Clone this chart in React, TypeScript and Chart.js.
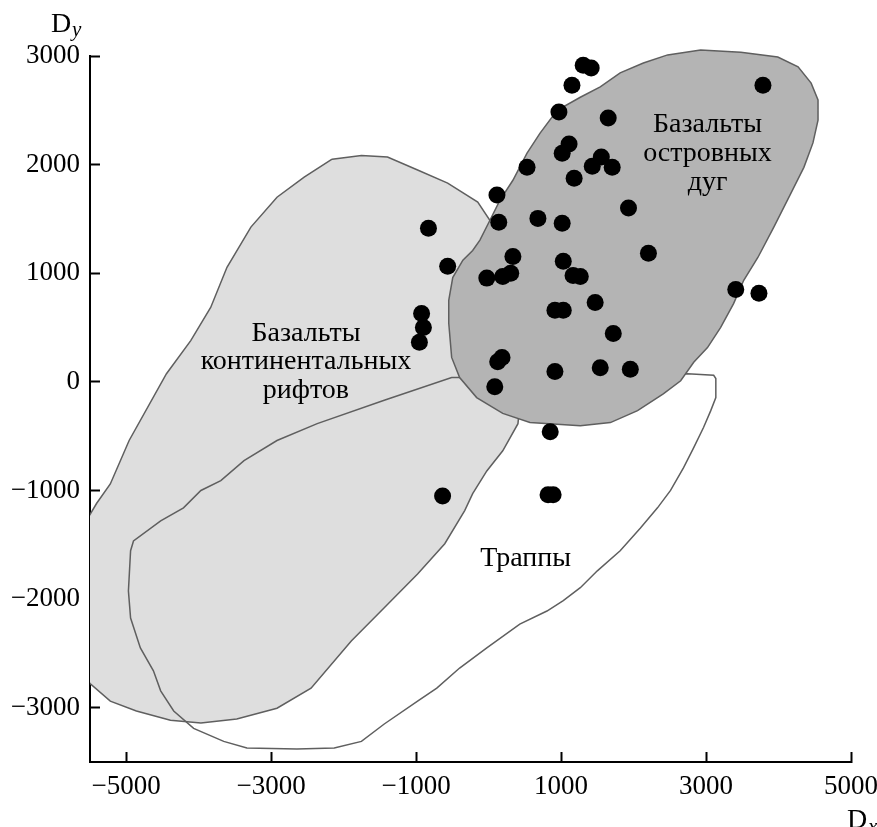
import React, { useEffect, useRef } from "react";
import { Chart, registerables } from "chart.js";

Chart.register(...registerables);

// ---- axis ticks ----
const xTickValues = [-5000, -3000, -1000, 1000, 3000, 5000];
const yTickValues = [-3000, -2000, -1000, 0, 1000, 2000, 3000];

// ---- sample points (Dx, Dy) ----
const sampleX = [
  1305, 1415, 1150, 970, 1650, 1110, 1015, 530, 1555, 1430, 1705, 1180, 3785,
  1930, 115, -830, 140, 680, 1015, -565, 335, -25, 195, 305, 1030, 1165, 1265,
  2205, -925, -900, -955, 1470, 915, 1030, 1720, 3410, 3730, 125, 185, 85, 915,
  1540, 1955, 850, -635, 820, 890,
];
const sampleY = [
  2915, 2890, 2730, 2485, 2430, 2190, 2105, 1975, 2070, 1985, 1975, 1875, 2730,
  1600, 1720, 1415, 1470, 1505, 1460, 1065, 1155, 955, 970, 1000, 1110, 980, 970,
  1185, 630, 500, 365, 730, 660, 660, 445, 850, 815, 185, 225, -45, 95, 130, 115,
  -460, -1050, -1040, -1040,
];

// ---- field: island-arc basalts ----
const islandX = [
  20, 155, 335, 530, 710, 945, 1265, 1540, 1815, 2135, 2470, 2925, 3480, 3990,
  4270, 4450, 4545, 4545, 4475, 4350, 4170, 3935, 3715, 3520, 3380, 3200, 3020,
  2830, 2650, 2410, 2055, 1680, 1265, 570, 195, -165, -400, -510, -550, -550,
  -495, -355, -220, -120,
];
const islandY = [
  1490, 1670, 1856, 2105, 2290, 2500, 2620, 2715, 2845, 2935, 3010, 3055, 3035,
  2990, 2900, 2750, 2595, 2410, 2200, 1975, 1735, 1425, 1145, 935, 720, 500, 315,
  180, 10, -110, -265, -375, -405, -375, -290, -145, 40, 225, 540, 750, 960,
  1120, 1210, 1305,
];

// ---- field: continental rift basalts ----
const riftX = [
  -2160, -1755, -1395, -980, -565, -150, 15, 155, 365, 460, 405, 195, -25, -220,
  -330, -605, -980, -1440, -1895, -2450, -2920, -3475, -3970, -4390, -4860,
  -5220, -5495, -5800, -5940, -5730, -5525, -5410, -5220, -4960, -4445, -4110,
  -3835, -3610, -3280, -2920, -2545,
];
const riftY = [
  2050, 2085, 2070, 1950, 1830, 1655, 1490, 1120, 565, 10, -385, -635, -820,
  -1030, -1185, -1490, -1770, -2080, -2385, -2820, -3005, -3105, -3140, -3115,
  -3030, -2940, -2780, -2570, -1925, -1465, -1250, -1120, -940, -540, 75, 380,
  685, 1055, 1425, 1700, 1885,
];

// ---- field: traps ----
const trapX = [
  2745, 3105, 3135, 3135, 3065, 2965, 2830, 2690, 2510, 2330, 2095, 1815, 1500,
  1265, 1030, 805, 430, -25, -400, -715, -980, -1440, -1755, -2130, -2645, -3335,
  -3655, -4070, -4345, -4525, -4625, -4805, -4940, -4970, -4940, -4900, -4525,
  -4210, -3970, -3695, -3375, -2920, -2365, -1440, -510, -370, 1000,
];
const trapY = [
  75, 60, 30, -145, -265, -420, -605, -790, -1000, -1160, -1345, -1555, -1740,
  -1895, -2015, -2110, -2230, -2450, -2635, -2820, -2940, -3150, -3310, -3370,
  -3380, -3370, -3310, -3190, -3030, -2845, -2660, -2450, -2175, -1925, -1555,
  -1465, -1280, -1160, -1000, -910, -725, -540, -385, -170, 40, 40, 60,
];

// ---- texts ----
const islandLabel = ["Базальты", "островных", "дуг"];
const riftLabel = ["Базальты", "континентальных", "рифтов"];
const trapLabel = ["Траппы"];
const yTitle = ["D", "y"];
const xTitle = ["D", "x"];

const FONT = "'Liberation Serif', 'Times New Roman', serif";

const toPoints = (xs: number[], ys: number[]) => xs.map((x, i) => ({ x, y: ys[i] }));
const closed = (xs: number[], ys: number[]) => {
  const p = toPoints(xs, ys);
  return [...p, p[0]];
};
const fmt = (v: number) => (v < 0 ? "\u2212" + Math.abs(v) : String(v));

const areaFill = {
  id: "areaFill",
  beforeDatasetDraw(chart: any, args: any) {
    const ds = chart.data.datasets[args.index];
    if (!ds.areaColor) return;
    const pts = args.meta.data;
    const { ctx, chartArea } = chart;
    ctx.save();
    ctx.beginPath();
    ctx.rect(chartArea.left, 0, chartArea.right - chartArea.left, chartArea.bottom);
    ctx.clip();
    ctx.beginPath();
    pts.forEach((p: any, i: number) => (i ? ctx.lineTo(p.x, p.y) : ctx.moveTo(p.x, p.y)));
    ctx.closePath();
    ctx.fillStyle = ds.areaColor;
    ctx.fill();
    ctx.restore();
  },
};

const annotations = {
  id: "annotations",
  afterDatasetsDraw(chart: any) {
    const { ctx, chartArea } = chart;
    const xs = chart.scales.x;
    const ys = chart.scales.y;
    ctx.save();
    ctx.fillStyle = "#000";
    ctx.font = `28px ${FONT}`;
    ctx.textAlign = "center";
    ctx.textBaseline = "alphabetic";
    const block = (lines: string[], dx: number, dy: number, lh: number) => {
      const px = xs.getPixelForValue(dx);
      const py = ys.getPixelForValue(dy);
      lines.forEach((l, i) => ctx.fillText(l, px, py + i * lh));
    };
    block(islandLabel, 3020, 2300, 29);
    block(riftLabel, -2520, 380, 28.5);
    block(trapLabel, 510, -1695, 0);

    ctx.textAlign = "left";
    ctx.font = `28px ${FONT}`;
    ctx.fillText(yTitle[0], chartArea.left - 39, chartArea.top - 24);
    ctx.fillText(xTitle[0], chartArea.right - 4, chartArea.bottom + 66);
    ctx.font = `italic 21px ${FONT}`;
    ctx.fillText(yTitle[1], chartArea.left - 18, chartArea.top - 20);
    ctx.fillText(xTitle[1], chartArea.right + 17, chartArea.bottom + 71);
    ctx.restore();
  },
};

export default function App() {
  const ref = useRef<HTMLCanvasElement | null>(null);

  useEffect(() => {
    if (!ref.current) return;
    const tickFont = { family: FONT, size: 27 };
    const chart = new Chart(ref.current, {
      type: "scatter",
      data: {
        datasets: [
          {
            label: "samples",
            data: toPoints(sampleX, sampleY),
            order: 0,
            pointRadius: 8.5,
            pointBackgroundColor: "#000",
            pointBorderWidth: 0,
            showLine: false,
          },
          {
            label: "island arcs",
            data: closed(islandX, islandY),
            order: 1,
            showLine: true,
            fill: false,
            areaColor: "#b4b4b4",
            borderColor: "#5f5f5f",
            borderWidth: 1.5,
            pointRadius: 0,
            tension: 0,
            clip: false,
          } as any,
          {
            label: "traps",
            data: closed(trapX, trapY),
            order: 2,
            showLine: true,
            fill: false,
            borderColor: "#5f5f5f",
            borderWidth: 1.5,
            pointRadius: 0,
            tension: 0,
          },
          {
            label: "continental rifts",
            data: closed(riftX, riftY),
            order: 3,
            showLine: true,
            fill: false,
            areaColor: "#dedede",
            borderColor: "#5f5f5f",
            borderWidth: 1.5,
            pointRadius: 0,
            tension: 0,
          } as any,
        ],
      },
      options: {
        responsive: false,
        animation: false,
        events: [],
        layout: { padding: { left: 0, right: 26, top: 56, bottom: 0 } },
        plugins: { legend: { display: false }, tooltip: { enabled: false } },
        scales: {
          x: {
            type: "linear",
            position: "bottom",
            min: -5500,
            max: 5000,
            z: 1,
            afterBuildTicks: (s: any) => {
              s.ticks = xTickValues.map((v) => ({ value: v }));
            },
            afterFit: (s: any) => {
              s.height = 65;
              s.paddingLeft = 0;
              s.paddingRight = 0;
            },
            grid: {
              drawOnChartArea: false,
              drawTicks: true,
              tickLength: -10,
              tickWidth: 2,
              tickColor: "#000",
            },
            border: { display: true, color: "#000", width: 2 },
            ticks: {
              font: tickFont,
              color: "#000",
              padding: 19,
              maxRotation: 0,
              autoSkip: false,
              callback: (v: any) => fmt(Number(v)),
            },
          },
          y: {
            type: "linear",
            position: "left",
            min: -3500,
            max: 3000,
            z: 1,
            afterBuildTicks: (s: any) => {
              s.ticks = yTickValues.map((v) => ({ value: v }));
            },
            afterFit: (s: any) => {
              s.width = 90;
              s.paddingTop = 0;
              s.paddingBottom = 0;
            },
            grid: {
              drawOnChartArea: false,
              drawTicks: true,
              tickLength: -10,
              tickWidth: 2,
              tickColor: "#000",
            },
            border: { display: true, color: "#000", width: 2 },
            ticks: {
              font: tickFont,
              color: "#000",
              padding: 20,
              autoSkip: false,
              callback: (v: any) => fmt(Number(v)),
            },
          },
        },
      },
      plugins: [areaFill, annotations],
    } as any);
    return () => chart.destroy();
  }, []);

  return (
    <div style={{ position: "absolute", left: 0, top: 0, width: 877, height: 827, background: "#fff" }}>
      <canvas ref={ref} width={877} height={827} style={{ display: "block" }} />
    </div>
  );
}
